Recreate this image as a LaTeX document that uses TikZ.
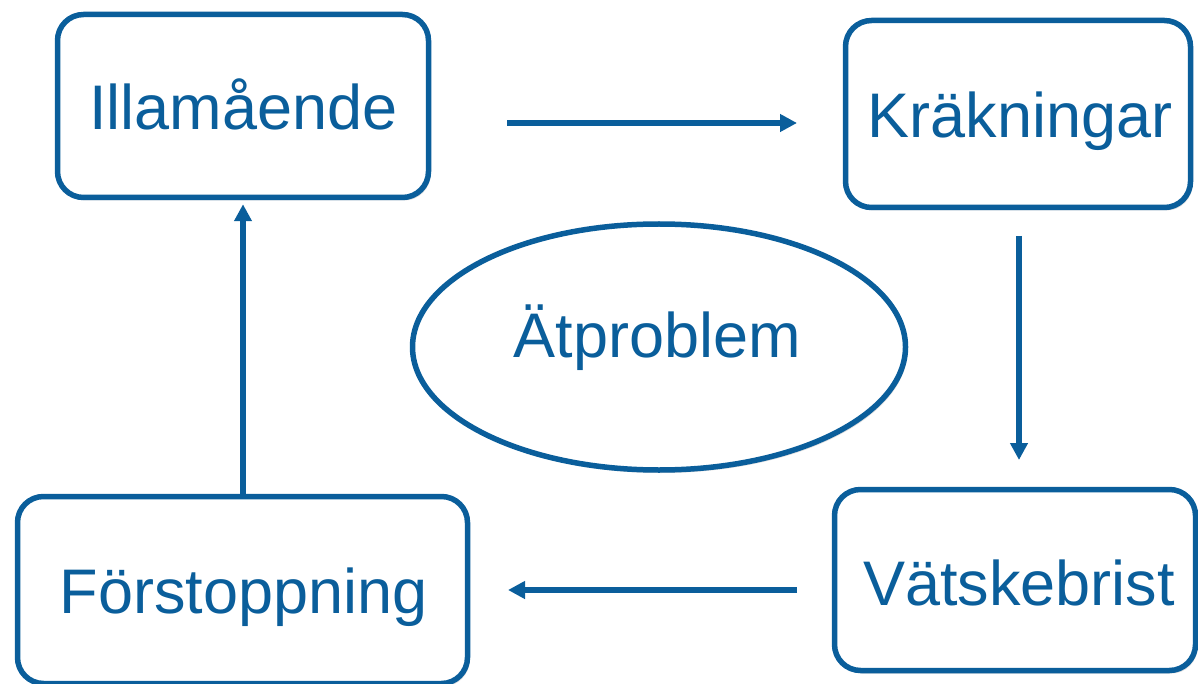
\documentclass[tikz,border=0pt]{standalone}
\usepackage{fontspec}
\setmainfont{Liberation Sans}
\usetikzlibrary{arrows.meta,shapes.geometric,shadows,calc}
\definecolor{dblue}{RGB}{10,94,155}
\tikzset{
  box/.style={draw=dblue, line width=5.5pt, rounded corners=26pt, fill=white, inner sep=0pt,
    drop shadow={opacity=0.22, shadow xshift=2pt, shadow yshift=-3pt, fill=black!60}},
  oval/.style={draw=dblue, line width=5.5pt, ellipse, fill=white, inner sep=0pt,
    drop shadow={opacity=0.22, shadow xshift=2pt, shadow yshift=-3pt, fill=black!60}},
  lbl/.style={text=dblue, font=\fontsize{63}{70}\selectfont, anchor=base, inner sep=0pt},
  conn/.style={draw=dblue, line width=6pt, -{Triangle[length=17pt,width=17pt]}}
}
\begin{document}
\begin{tikzpicture}[x={(1pt,0pt)}, y={(0pt,-1pt)}]
\useasboundingbox (0,0) rectangle (1198,684);
\node[box, minimum width=371pt, minimum height=183pt] (ill) at (243,106) {};
\node[box, minimum width=345pt, minimum height=187pt] (kra) at (1018,114) {};
\node[box, minimum width=361pt, minimum height=181pt] (vat) at (1015,580) {};
\node[box, minimum width=450pt, minimum height=187pt] (for) at (242.5,590) {};
\node[oval, minimum width=493pt, minimum height=246pt] (atp) at (659,347) {};
\node[lbl] (till) at (243.5,130) {Illamående};
\node[lbl] (tkra) at (1020,138) {Kräkningar};
\node[lbl] (tvat) at (1019,605) {Vätskebrist};
\node[lbl] (tfor) at (243.5,613) {Förstoppning};
\node[lbl] (tatp) at (657.5,357) {Ätproblem};
\coordinate (a1s) at (507,123);
\coordinate (a1e) at (797,123);
\coordinate (a2s) at (1019,236);
\coordinate (a2e) at (1019,460);
\coordinate (a3s) at (797,590);
\coordinate (a3e) at (508,590);
\draw[conn] (a1s) -- (a1e);
\draw[conn] (a2s) -- (a2e);
\draw[conn] (a3s) -- (a3e);
\draw[conn, shorten >=4pt] (for.north -| ill.south) -- (ill.south);
\end{tikzpicture}
\end{document}
